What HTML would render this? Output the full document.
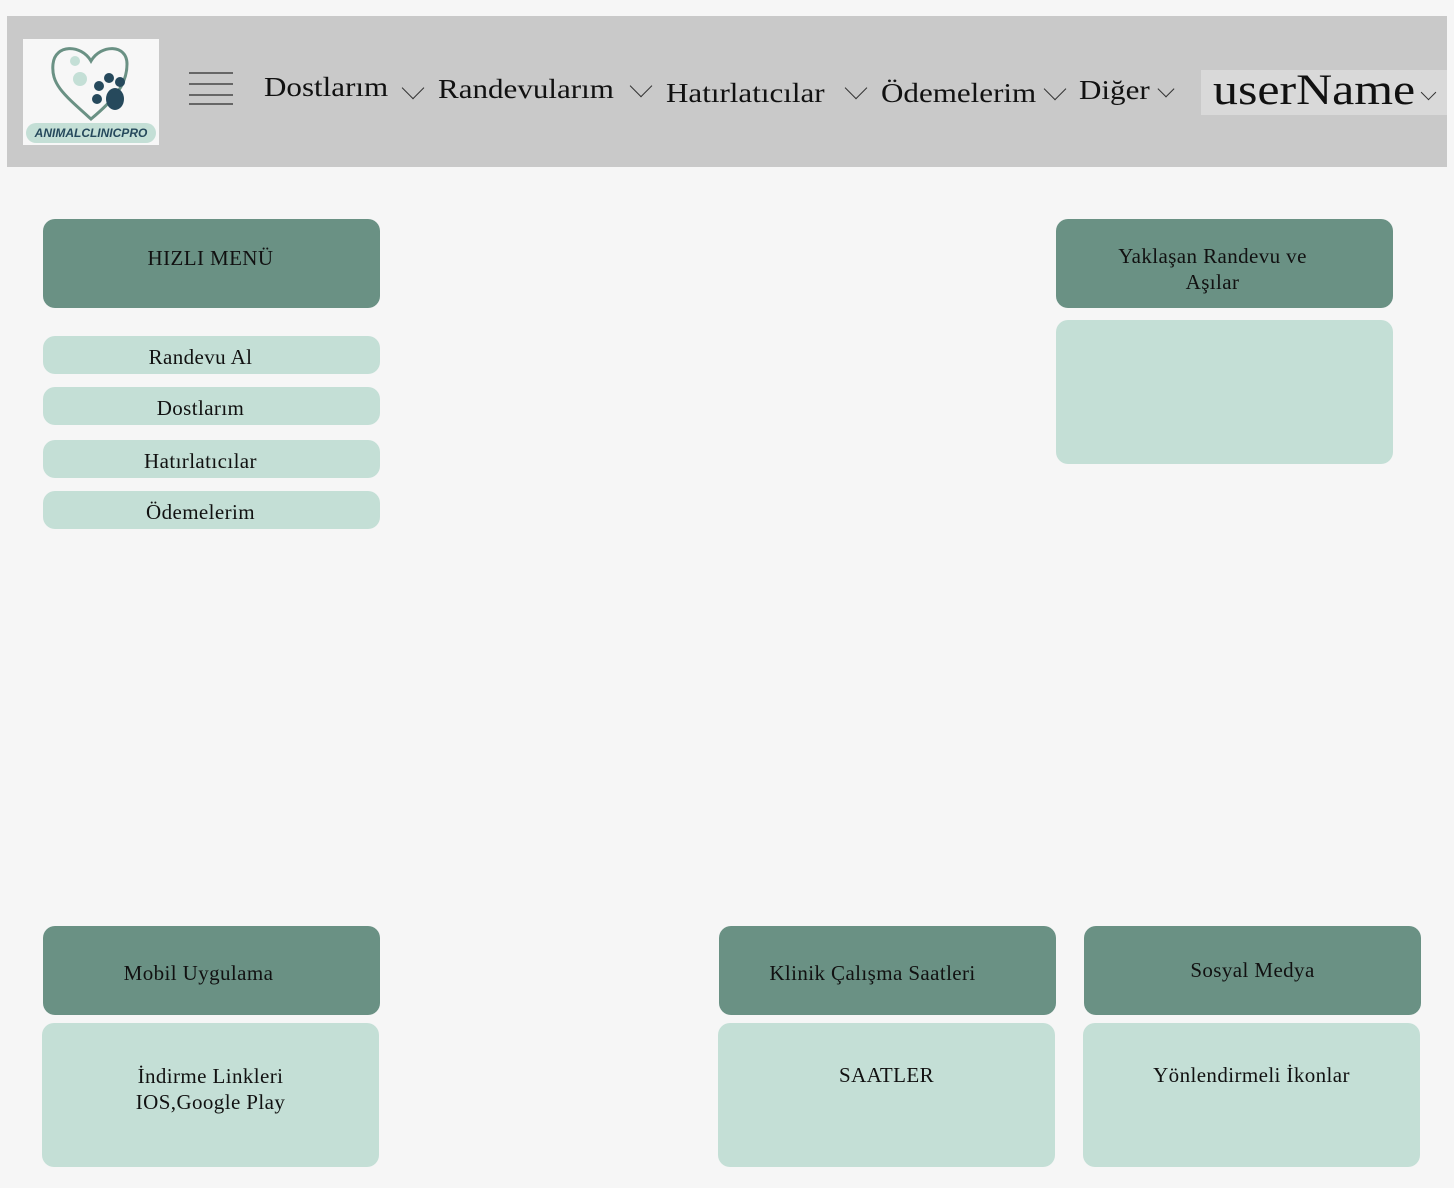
<!DOCTYPE html>
<html><head><meta charset="utf-8"><style>
*{margin:0;padding:0;box-sizing:border-box}
body{width:1454px;height:1188px;background:#f6f6f6;position:relative;overflow:hidden;font-family:"Liberation Serif",serif;color:#111}
.a{position:absolute}
.hdr{left:7px;top:16px;width:1440px;height:151px;background:#c9c9c9}
.nav{font-size:27px;top:74px;transform:scaleX(1.15);transform-origin:left}
.chev{width:16px;height:16px;border-right:1.5px solid #333;border-bottom:1.5px solid #333;transform:rotate(45deg);position:absolute}
.dk{background:#6a9184;border-radius:12px;font-size:21px;letter-spacing:0.4px;text-align:center}
.lt{background:#c4dfd6;border-radius:12px;font-size:21px;letter-spacing:0.4px;text-align:center}
.pill{background:#c4dfd6;border-radius:12px;font-size:21px;letter-spacing:0.4px;text-align:center;left:43px;width:337px;height:38px;line-height:42px}
.hb{left:189px;width:44px;height:2px;background:#666}
</style></head><body>
<div class="a hdr"></div>
<div class="a" style="left:23px;top:39px;width:136px;height:106px;background:#f7f7f7">
<svg width="136" height="106" viewBox="0 0 136 106">
<path d="M68 80 C40 55 28 45 30 25 C32 5 58 5 68 22 C78 5 104 5 104 25 C104 45 92 60 68 80Z" fill="none" stroke="#6a9184" stroke-width="3"/>
<circle cx="52" cy="22" r="5" fill="#c4dfd6"/><circle cx="57" cy="40" r="7" fill="#c4dfd6"/>
<circle cx="76" cy="47" r="5" fill="#26495c"/><circle cx="86" cy="39" r="5" fill="#26495c"/><circle cx="97" cy="43" r="5" fill="#26495c"/><circle cx="74" cy="60" r="5" fill="#26495c"/>
<ellipse cx="92" cy="60" rx="9" ry="11" fill="#26495c"/>
<rect x="3" y="84" width="130" height="20" rx="10" fill="#c4dfd6"/>
<text x="68" y="98" text-anchor="middle" font-family="Liberation Sans,sans-serif" font-style="italic" font-weight="bold" font-size="12" fill="#26495c">ANIMALCLINICPRO</text>
</svg></div>
<div class="a hb" style="top:72px"></div><div class="a hb" style="top:83px"></div><div class="a hb" style="top:94px"></div><div class="a hb" style="top:103px"></div>
<div class="a nav" style="left:264px;top:72px">Dostlarım</div><div class="chev" style="left:405px;top:80px"></div>
<div class="a nav" style="left:438px">Randevularım</div><div class="chev" style="left:633px;top:78px"></div>
<div class="a nav" style="left:666px;top:78px">Hatırlatıcılar</div><div class="chev" style="left:848px;top:80px"></div>
<div class="a nav" style="left:881px;top:78px">Ödemelerim</div><div class="chev" style="left:1047px;top:81px"></div>
<div class="a nav" style="left:1079px;top:75px">Diğer</div><div class="chev" style="left:1160px;top:83px;width:12px;height:12px"></div>
<div class="a" style="left:1201px;top:70px;width:246px;height:45px;background:#d9d9d9"></div>
<div class="a" style="left:1213px;top:66px;font-size:43px;transform:scaleX(1.16);transform-origin:left">userName</div><div class="chev" style="left:1423px;top:87px;width:11px;height:11px"></div>

<div class="a dk" style="left:43px;top:219px;width:337px;height:89px;padding-top:27px;padding-right:2px">HIZLI MENÜ</div>
<div class="a pill" style="top:336px;padding-right:22px">Randevu Al</div>
<div class="a pill" style="top:387px;padding-right:22px">Dostlarım</div>
<div class="a pill" style="top:440px;padding-right:22px">Hatırlatıcılar</div>
<div class="a pill" style="top:491px;padding-right:22px">Ödemelerim</div>

<div class="a dk" style="left:1056px;top:219px;width:337px;height:89px;padding-top:24px;padding-right:24px;line-height:26px">Yaklaşan Randevu ve<br>Aşılar</div>
<div class="a lt" style="left:1056px;top:320px;width:337px;height:144px"></div>

<div class="a dk" style="left:43px;top:926px;width:337px;height:89px;padding-top:35px;padding-right:26px">Mobil Uygulama</div>
<div class="a lt" style="left:42px;top:1023px;width:337px;height:144px;padding-top:40px;line-height:26px">İndirme Linkleri<br>IOS,Google Play</div>
<div class="a dk" style="left:719px;top:926px;width:337px;height:89px;padding-top:35px;padding-right:30px">Klinik Çalışma Saatleri</div>
<div class="a lt" style="left:718px;top:1023px;width:337px;height:144px;padding-top:40px">SAATLER</div>
<div class="a dk" style="left:1084px;top:926px;width:337px;height:89px;padding-top:32px">Sosyal Medya</div>
<div class="a lt" style="left:1083px;top:1023px;width:337px;height:144px;padding-top:40px">Yönlendirmeli İkonlar</div>
</body></html>
